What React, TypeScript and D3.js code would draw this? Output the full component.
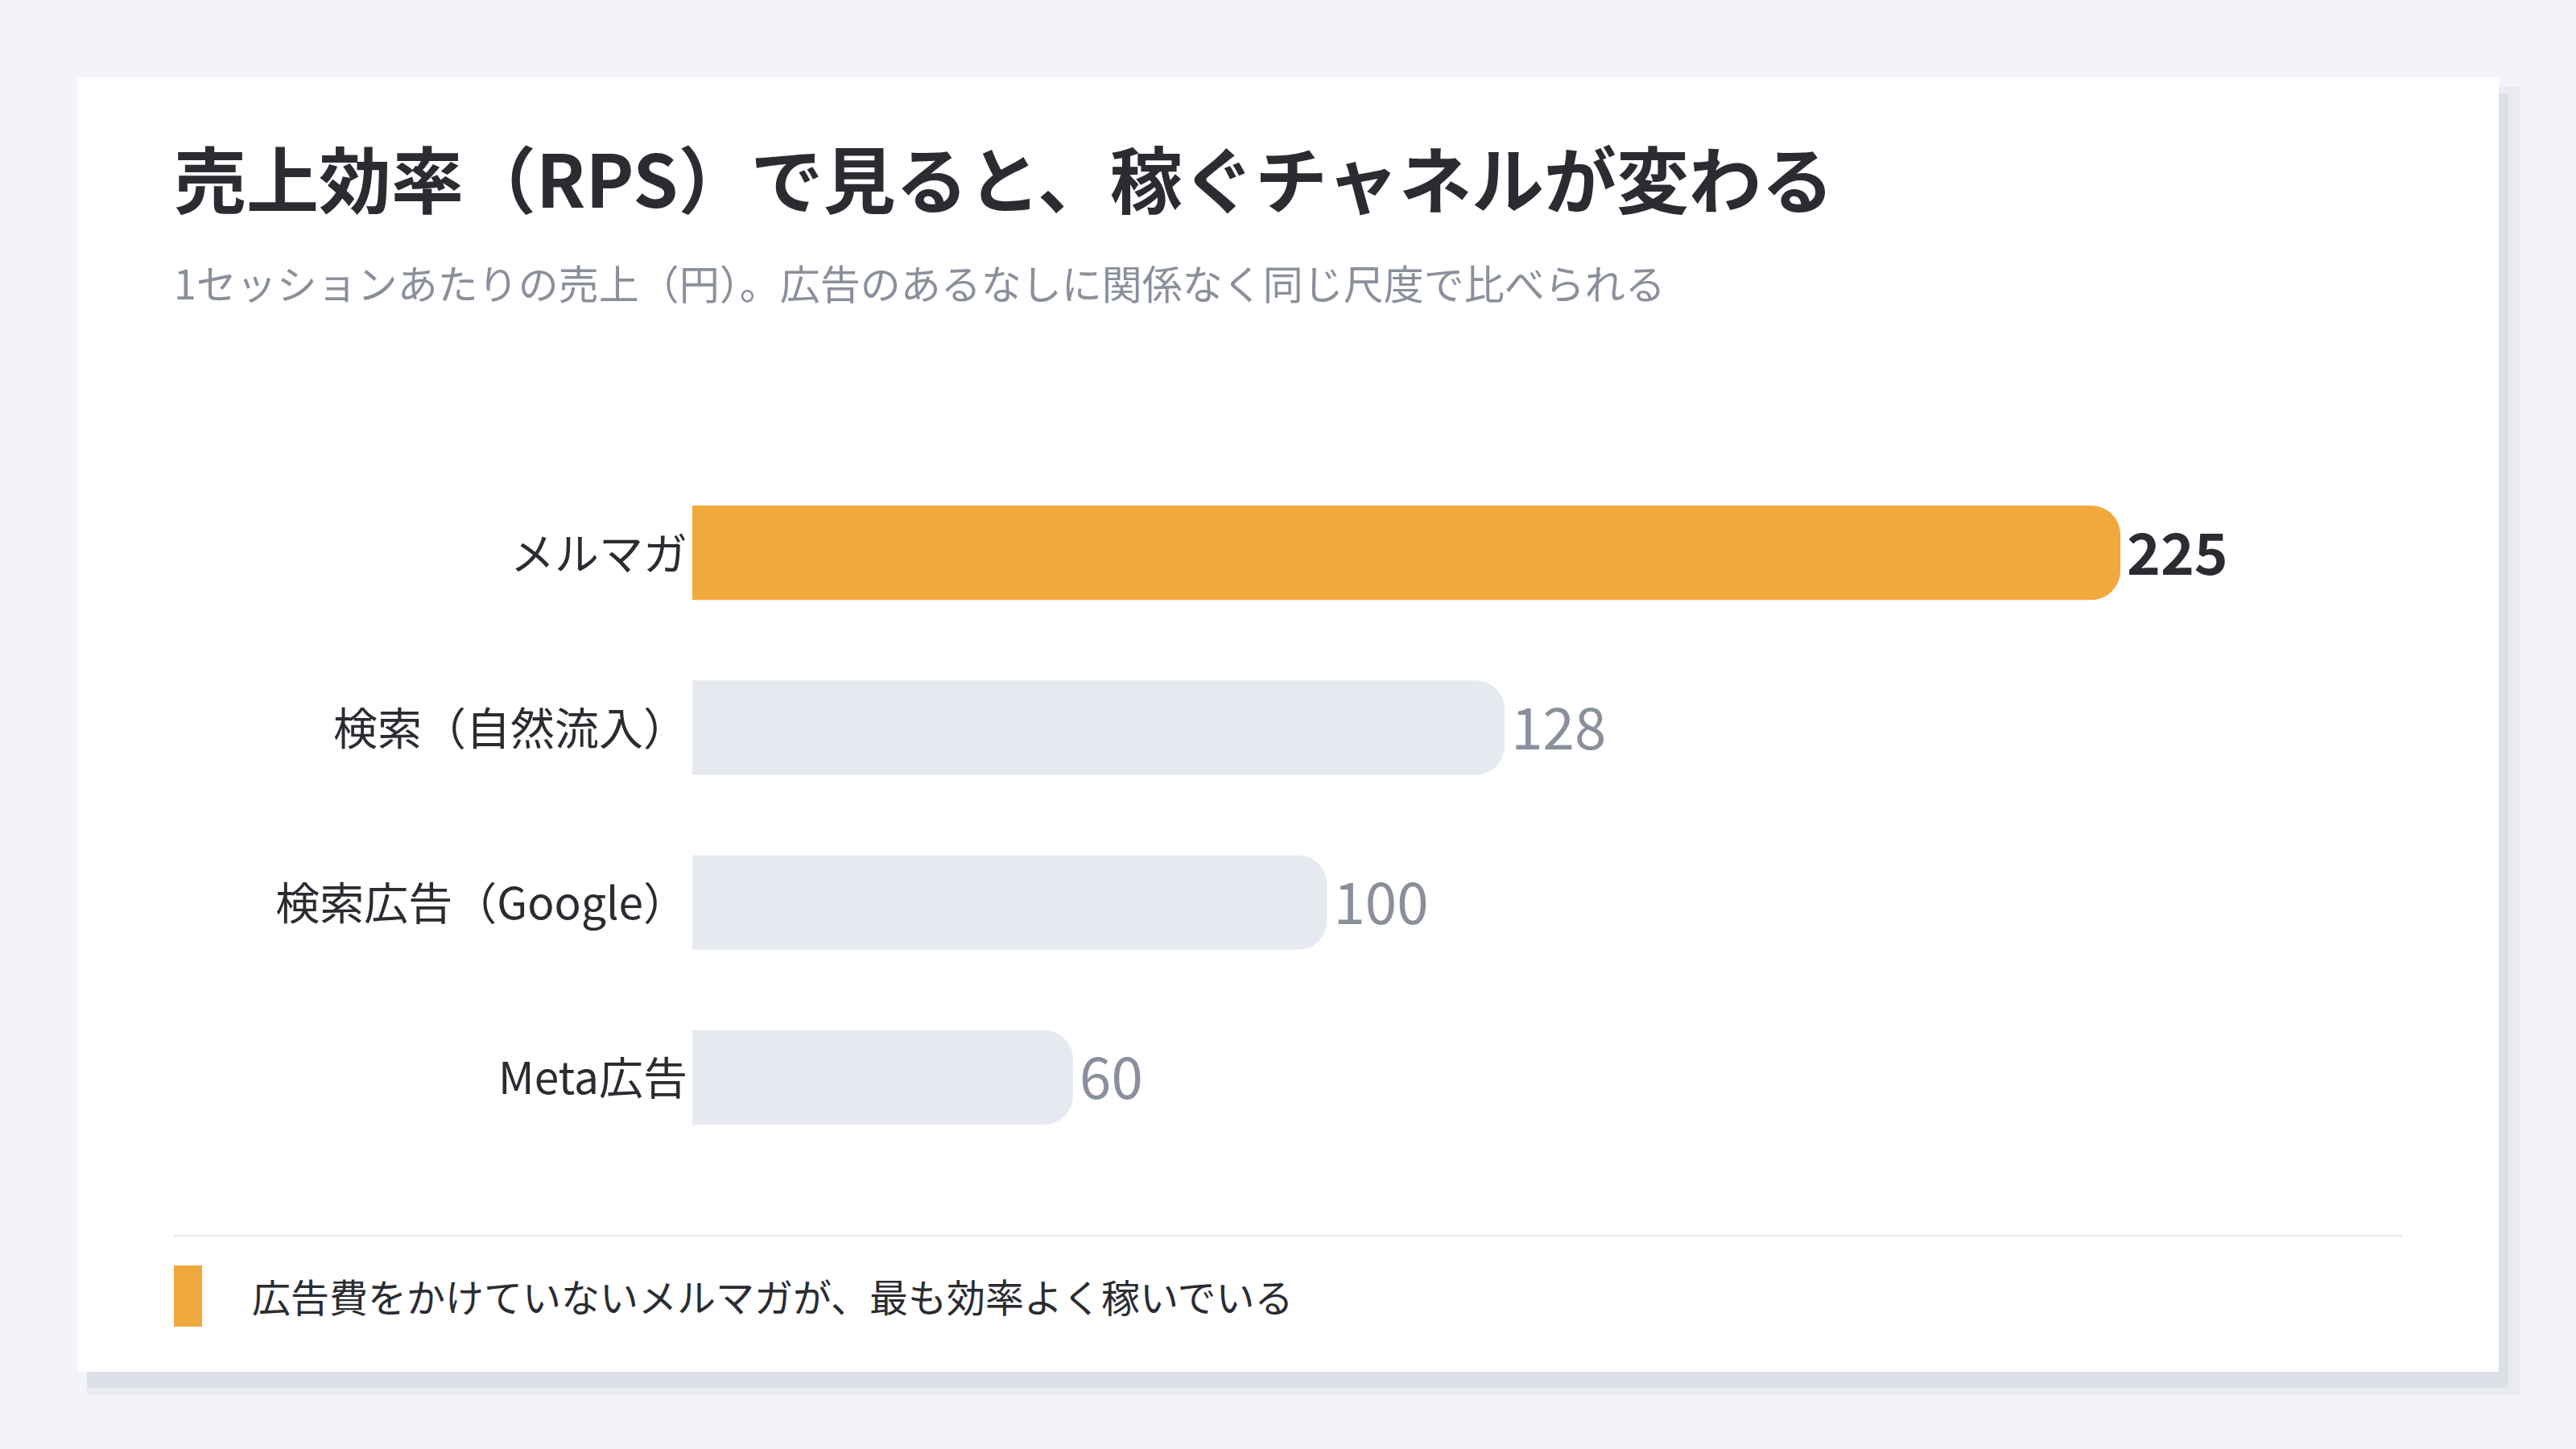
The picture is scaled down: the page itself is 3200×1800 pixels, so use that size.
import React from "react";
import * as d3 from "d3";

const categories = ["メルマガ", "検索（自然流入）", "検索広告（Google）", "Meta広告"];
const values = [225, 128, 100, 60];
const highlight = [true, false, false, false];
const titleText = "売上効率（RPS）で見ると、稼ぐチャネルが変わる";
const subtitleText = "1セッションあたりの売上（円）。広告のあるなしに関係なく同じ尺度で比べられる";
const noteText = "広告費をかけていないメルマガが、最も効率よく稼いでいる";

const W = 3200;
const H = 1800;
const FONT = "'Noto Sans CJK JP', 'Noto Sans', sans-serif";

function barPath(x0: number, y0: number, w: number, h: number, r: number) {
  const rr = Math.min(r, w / 2, h / 2);
  const p = d3.path();
  p.moveTo(x0, y0);
  p.lineTo(x0 + w - rr, y0);
  p.arcTo(x0 + w, y0, x0 + w, y0 + rr, rr);
  p.lineTo(x0 + w, y0 + h - rr);
  p.arcTo(x0 + w, y0 + h, x0 + w - rr, y0 + h, rr);
  p.lineTo(x0, y0 + h);
  p.closePath();
  return p.toString();
}

export default function App() {
  const card = { x: 96, y: 96, w: 3008, h: 1608 };
  const left = 216;
  const right = 2984;

  const y = d3
    .scaleBand<string>()
    .domain(categories)
    .range([578, 1447])
    .paddingInner(0.46)
    .paddingOuter(0.23);

  const x = d3
    .scaleLinear()
    .domain([0, d3.max(values) as number])
    .range([860, 2634]);

  return (
    <svg
      width={W}
      height={H}
      viewBox={`0 0 ${W} ${H}`}
      style={{ position: "absolute", left: 0, top: 0, display: "block" }}
    >
      <rect x={0} y={0} width={W} height={H} fill="#f3f4f8" />
      {/* card shadow */}
      <rect x={card.x + 12} y={card.y + 12} width={card.w + 14} height={card.h + 17} fill="#e9ebef" />
      <rect x={card.x + 12} y={card.y + 20} width={card.w} height={card.h} fill="#dde0e6" />
      <rect x={card.x} y={card.y} width={card.w} height={card.h} fill="#ffffff" />

      <text
        x={left}
        y={219}
        fontFamily={FONT}
        fontSize={90}
        fontWeight={700}
        fill="#2a2c31"
        dominantBaseline="central"
      >
        {titleText}
      </text>
      <text
        x={left}
        y={350}
        fontFamily={FONT}
        fontSize={50}
        fontWeight={400}
        fill="#8a909b"
        dominantBaseline="central"
      >
        {subtitleText}
      </text>

      {categories.map((c, i) => {
        const by = y(c) as number;
        const bh = y.bandwidth();
        const x0 = x(0);
        const w = x(values[i]) - x0;
        const cy = by + bh / 2;
        return (
          <g key={c}>
            <path d={barPath(x0, by, w, bh, 36)} fill={highlight[i] ? "#f0a93c" : "#e6e9f0"} />
            <text
              x={x0 - 6}
              y={cy - 3}
              textAnchor="end"
              dominantBaseline="central"
              fontFamily={FONT}
              fontSize={55}
              fill="#2a2c31"
            >
              {c}
            </text>
            <text
              x={x(values[i]) + 8}
              y={cy - 4}
              dominantBaseline="central"
              fontFamily={FONT}
              fontSize={71}
              fontWeight={highlight[i] ? 700 : 400}
              fill={highlight[i] ? "#2a2c31" : "#8a909b"}
            >
              {values[i]}
            </text>
          </g>
        );
      })}

      <line x1={left} x2={right} y1={1535} y2={1535} stroke="#eceef2" strokeWidth={3} />
      <rect x={left} y={1572} width={35} height={76} fill="#f0a93c" />
      <text
        x={313}
        y={1609}
        dominantBaseline="central"
        fontFamily={FONT}
        fontSize={48}
        fill="#2a2c31"
      >
        {noteText}
      </text>
    </svg>
  );
}
